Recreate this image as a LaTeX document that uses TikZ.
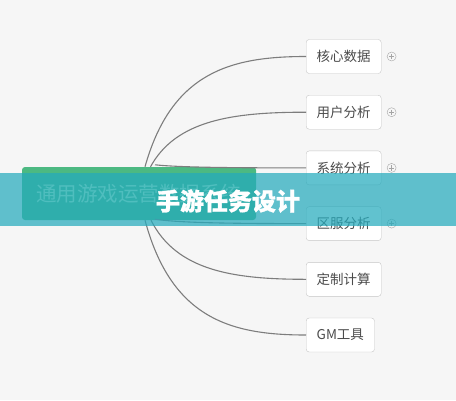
\documentclass[tikz,border=0pt]{standalone}
\usepackage{fontspec}
\setmainfont{Noto Sans CJK SC}
\newfontfamily\titlefont{Noto Sans CJK SC}[BoldFeatures={FakeBold=1.2}]
\usetikzlibrary{calc,positioning}
\definecolor{bg}{RGB}{246,246,246}
\definecolor{rootgreen}{RGB}{76,185,130}
\definecolor{roottext}{RGB}{190,240,195}
\definecolor{bannerteal}{RGB}{37,171,189}
\definecolor{leafline}{RGB}{198,198,198}
\definecolor{leaftext}{RGB}{75,75,75}
\definecolor{branchline}{RGB}{125,125,125}
\definecolor{expline}{RGB}{165,165,165}
\newcommand{\connectbranch}[2]{%
  \draw[branch] let \p1 = (#1), \p2 = (#2.west) in
    (\p1) .. controls ({0.835*\x1+0.165*\x2}, {0.14*\y1+0.86*\y2})
    and ({0.466*\x1+0.534*\x2}, \y2) .. (\p2)}
\newcommand{\expander}[2]{%
  \node[expander, right=5.5pt of #2] (#1) {}}

\begin{document}
\begin{tikzpicture}[x=1pt, y=-1pt,
    rootbox/.style={fill=rootgreen, rounded corners=3pt, minimum width=234pt,
    minimum height=53pt, text=roottext, font=\fontsize{20.5}{22}\selectfont},
    leaf/.style={draw=leafline, fill=white, rounded corners=3pt, minimum height=34pt,
    inner xsep=10.5pt, text=leaftext, font=\fontsize{13.5}{15}\selectfont},
    branch/.style={draw=branchline, line width=1.1pt},
    expander/.style={circle, draw=expline, minimum size=9pt, inner sep=0pt,
    path picture={\draw[expline]
      ([xshift=-2.6pt]path picture bounding box.center) -- ([xshift=2.6pt]path picture bounding box.center)
      ([yshift=-2.6pt]path picture bounding box.center) -- ([yshift=2.6pt]path picture bounding box.center);}}]
  \fill[bg] (0,0) rectangle (456,400);
  \useasboundingbox (0,0) rectangle (456,400);

  \node[rootbox] (root) at (139,193.5) {通用游戏运营数据系统};
  \coordinate (s1) at ([xshift=6pt]root.north);
  \coordinate (s2) at ([xshift=11.5pt]root.north);
  \coordinate (s3) at ([xshift=16pt, yshift=2pt]root.north);
  \coordinate (s4) at ([xshift=16pt, yshift=1pt]root.south);
  \coordinate (s5) at ([xshift=12pt]root.south);
  \coordinate (s6) at ([xshift=6pt]root.south);

  \node[leaf, anchor=west] (n1) at (306,56.5) {核心数据};
  \node[leaf, below=21.3pt of n1.south west, anchor=north west] (n2) {用户分析};
  \node[leaf, below=21.3pt of n2.south west, anchor=north west] (n3) {系统分析};
  \node[leaf, below=21.3pt of n3.south west, anchor=north west] (n4) {区服分析};
  \node[leaf, below=21.3pt of n4.south west, anchor=north west] (n5) {定制计算};
  \node[leaf, below=21.3pt of n5.south west, anchor=north west] (n6) {GM工具};

  \expander{e1}{n1};
  \expander{e2}{n2};
  \expander{e3}{n3};
  \expander{e4}{n4};

  \connectbranch{s1}{n1};
  \connectbranch{s2}{n2};
  \connectbranch{s3}{n3};
  \connectbranch{s4}{n4};
  \connectbranch{s5}{n5};
  \connectbranch{s6}{n6};

  % banner over the map
  \fill[bannerteal, opacity=0.72] (0,173) rectangle (456,226);
  \node[text=white, font=\fontsize{24}{26}\selectfont\titlefont\bfseries] (title) at (228,201) {手游任务设计};
\end{tikzpicture}
\end{document}
